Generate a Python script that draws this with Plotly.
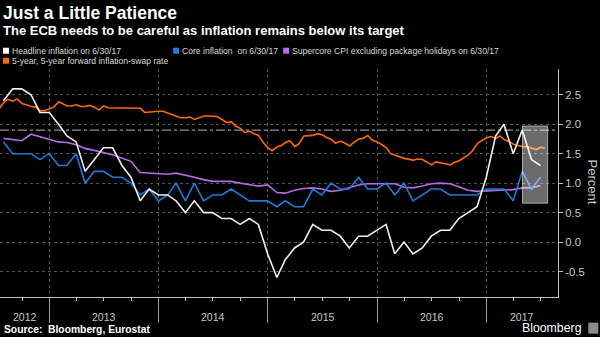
import pandas as pd
import plotly.graph_objects as go

# ---------------- data ----------------
monthly_dates = pd.date_range("2012-07-31", periods=60, freq="ME")

headline = [2.4, 2.6, 2.6, 2.5, 2.2, 2.2,
            2.0, 1.8, 1.7, 1.2, 1.4, 1.6, 1.6, 1.3, 1.1, 0.7, 0.9, 0.8,
            0.8, 0.7, 0.5, 0.7, 0.5, 0.5, 0.4, 0.4, 0.3, 0.4, 0.3, -0.2,
            -0.6, -0.3, -0.1, 0.0, 0.3, 0.2, 0.2, 0.1, -0.1, 0.1, 0.1, 0.2,
            0.3, -0.2, 0.0, -0.2, -0.1, 0.1, 0.2, 0.2, 0.4, 0.5, 0.6, 1.1,
            1.8, 2.0, 1.5, 1.9, 1.4, 1.3]

core = [1.7, 1.5, 1.5, 1.5, 1.4, 1.5,
        1.3, 1.3, 1.5, 1.0, 1.2, 1.2, 1.1, 1.1, 1.0, 0.8, 0.9, 0.7,
        0.8, 1.0, 0.7, 1.0, 0.7, 0.8, 0.8, 0.9, 0.8, 0.7, 0.7, 0.7,
        0.6, 0.7, 0.6, 0.6, 0.9, 0.8, 1.0, 0.9, 0.9, 1.1, 0.9, 0.9,
        1.0, 0.8, 1.0, 0.7, 0.8, 0.9, 0.9, 0.8, 0.8, 0.8, 0.8, 0.9,
        0.9, 0.9, 0.7, 1.2, 0.9, 1.1]

supercore = [1.76, 1.74, 1.72, 1.83, 1.79, 1.75,
             1.70, 1.69, 1.65, 1.59, 1.56, 1.52, 1.48, 1.42, 1.37, 1.18, 1.17, 1.16,
             1.15, 1.17, 1.14, 1.10, 1.06, 1.03, 1.03, 1.03, 1.00, 0.97, 0.95, 0.97,
             0.84, 0.83, 0.88, 0.91, 0.92, 0.90, 0.86, 0.88, 0.92, 0.97, 0.99, 0.99,
             0.99, 0.99, 0.93, 0.92, 0.95, 0.99, 1.00, 0.99, 0.94, 0.88, 0.86, 0.87,
             0.88, 0.88, 0.89, 0.92, 0.92, 0.96]

swap_dates = pd.date_range("2012-07-15", "2017-07-15", freq="SMS")
swap = [2.25,
        2.37, 2.42, 2.39, 2.43, 2.35, 2.33, 2.30, 2.29, 2.23, 2.23,
        2.26, 2.29, 2.38, 2.35, 2.31, 2.31, 2.33, 2.30, 2.30, 2.32, 2.29, 2.24,
        2.31, 2.28, 2.28, 2.28, 2.27, 2.28, 2.27, 2.28, 2.27, 2.20, 2.21, 2.21,
        2.22, 2.22, 2.19, 2.16, 2.13, 2.11, 2.11, 2.12, 2.08, 2.11, 2.14, 2.14,
        2.14, 2.13, 2.08, 2.03, 2.04, 1.97, 1.93, 1.86, 1.88, 1.84, 1.81, 1.70,
        1.60, 1.55, 1.62, 1.64, 1.69, 1.72, 1.62, 1.67, 1.80, 1.80, 1.81, 1.84,
        1.82, 1.78, 1.74, 1.68, 1.71, 1.68, 1.63, 1.69, 1.75, 1.76, 1.81, 1.73,
        1.70, 1.66, 1.60, 1.50, 1.48, 1.45, 1.42, 1.40, 1.39, 1.41, 1.40, 1.36,
        1.31, 1.36, 1.35, 1.33, 1.31, 1.35, 1.38, 1.43, 1.48, 1.55, 1.67, 1.72,
        1.77, 1.79, 1.76, 1.80, 1.74, 1.71, 1.66, 1.64, 1.62, 1.62, 1.59, 1.57,
        1.61, 1.59]

target = 1.9
years = [2012, 2013, 2014, 2015, 2016, 2017]
y_ticks = [-0.5, 0.0, 0.5, 1.0, 1.5, 2.0, 2.5]
highlight = dict(x0="2017-05-01", x1="2017-07-24", y0=0.66, y1=1.97)

legend_items = [
    ("Headline inflation on 6/30/17", "#ffffff"),
    ("Core inflation  on 6/30/17", "#1f7ad8"),
    ("Supercore CPI excluding package holidays on 6/30/17", "#b86be8"),
    ("5-year, 5-year forward inflation-swap rate", "#ff6a00"),
]

# ---------------- figure ----------------
x_range = [pd.Timestamp("2012-07-19 10:00"), pd.Timestamp("2017-08-27 16:00")]
W, H = 600, 337
L, R, T, B = 0, 42.3, 69, 39.7
pw, ph = W - L - R, H - T - B


def xp(px):
    return (px - L) / pw


def yp(py):
    return (H - B - py) / ph


fig = go.Figure()
fig.add_trace(go.Scatter(x=swap_dates, y=swap, mode="lines",
                         line=dict(color=legend_items[3][1], width=1.6)))
fig.add_trace(go.Scatter(x=monthly_dates, y=supercore, mode="lines",
                         line=dict(color=legend_items[2][1], width=1.6)))
fig.add_trace(go.Scatter(x=monthly_dates, y=core, mode="lines",
                         line=dict(color=legend_items[1][1], width=1.6)))
fig.add_trace(go.Scatter(x=monthly_dates, y=headline, mode="lines",
                         line=dict(color="#f0f0f0", width=1.6)))

shapes = []
# target line
shapes.append(dict(type="line", xref="paper", x0=0, x1=1, yref="y", y0=target, y1=target,
                   line=dict(color="#b8b8b8", width=1, dash="dashdot"), layer="below"))
# highlight box
shapes.append(dict(type="rect", xref="x", yref="y", **highlight,
                   fillcolor="rgba(255,255,255,0.42)",
                   line=dict(color="rgba(255,255,255,0.55)", width=1), layer="above"))

annotations = []
# title / subtitle
annotations.append(dict(text="<b>Just a Little Patience</b>", x=xp(1), y=yp(13), xref="paper", yref="paper",
                        xanchor="left", yanchor="middle", showarrow=False,
                        font=dict(family="Liberation Sans, Arial", size=17.5, color="#ffffff")))
annotations.append(dict(text="<b>The ECB needs to be careful as inflation remains below its target</b>",
                        x=xp(1), y=yp(30), xref="paper", yref="paper",
                        xanchor="left", yanchor="middle", showarrow=False,
                        font=dict(family="Liberation Sans, Arial", size=13, color="#ffffff")))
# legend
legend_pos = [(3, 50.7), (173, 50.7), (283, 50.7), (3, 60.7)]
for (label, color), (lx, ly) in zip(legend_items, legend_pos):
    shapes.append(dict(type="rect", xref="paper", yref="paper",
                       x0=xp(lx), x1=xp(lx + 6), y0=yp(ly + 3), y1=yp(ly - 3),
                       fillcolor=color, line=dict(width=0)))
    annotations.append(dict(text=label, x=xp(lx + 7), y=yp(ly), xref="paper", yref="paper",
                            xanchor="left", yanchor="middle", showarrow=False,
                            font=dict(family="Liberation Sans, Arial", size=8.6,
                                      color="#d8d8d8")))
# year labels centred in visible portion of each year
for yr in years:
    a = max(pd.Timestamp(f"{yr}-01-01"), x_range[0])
    b = min(pd.Timestamp(f"{yr + 1}-01-01"), x_range[1])
    mid = a + (b - a) / 2
    annotations.append(dict(text=str(yr), x=mid, y=yp(317), xref="x", yref="paper",
                            xanchor="center", yanchor="middle", showarrow=False,
                            font=dict(family="Liberation Sans, Arial", size=10.5, color="#c8c8c8")))
# axis title
annotations.append(dict(text="Percent", x=xp(592), y=yp(182), xref="paper", yref="paper",
                        textangle=90, showarrow=False, xanchor="center", yanchor="middle",
                        font=dict(family="Liberation Sans, Arial", size=13, color="#c8c8c8")))
# source & brand
annotations.append(dict(text="<b>Source:  Bloomberg, Eurostat</b>", x=xp(2), y=yp(330), xref="paper", yref="paper",
                        xanchor="left", yanchor="middle", showarrow=False,
                        font=dict(family="Liberation Sans, Arial", size=10.3, color="#ffffff")))
annotations.append(dict(text="Bloomberg", x=xp(584), y=yp(328.5), xref="paper", yref="paper",
                        xanchor="right", yanchor="middle", showarrow=False,
                        font=dict(family="Liberation Sans, Arial", size=12.3, color="#ffffff")))
shapes.append(dict(type="rect", xref="paper", yref="paper", x0=xp(588), x1=xp(598), y0=yp(334), y1=yp(323),
                   fillcolor="#8c8c8c", line=dict(width=0)))

fig.update_layout(
    width=W, height=H,
    margin=dict(l=L, r=R, t=T, b=B, pad=0),
    paper_bgcolor="#000000", plot_bgcolor="#000000",
    showlegend=False,
    shapes=shapes, annotations=annotations,
    xaxis=dict(type="date", range=x_range,
               tickvals=[f"{y}-01-01" for y in years[1:]], ticktext=["" for _ in years[1:]],
               ticks="outside", ticklen=25, tickwidth=1, tickcolor="#9a9a9a",
               showgrid=True, gridcolor="#555555", griddash="dot", gridwidth=1,
               showline=True, linecolor="#c0c0c0", linewidth=1, zeroline=False,
               minor=dict(dtick="M3", tick0="2012-01-01", ticks="outside", ticklen=3,
                          tickcolor="#c0c0c0", showgrid=False),
               fixedrange=True),
    yaxis=dict(side="right", range=[-0.932, 2.937],
               tickvals=y_ticks, ticktext=[f"{v:.1f}" for v in y_ticks],
               ticks="outside", ticklen=4, tickcolor="#c0c0c0",
               tickfont=dict(family="Liberation Sans, Arial", size=11.3, color="#c8c8c8"),
               showgrid=True, gridcolor="#555555", griddash="dot", gridwidth=1,
               showline=True, linecolor="#c0c0c0", linewidth=1, zeroline=False,
               fixedrange=True),
)

fig.write_html("out.html")
